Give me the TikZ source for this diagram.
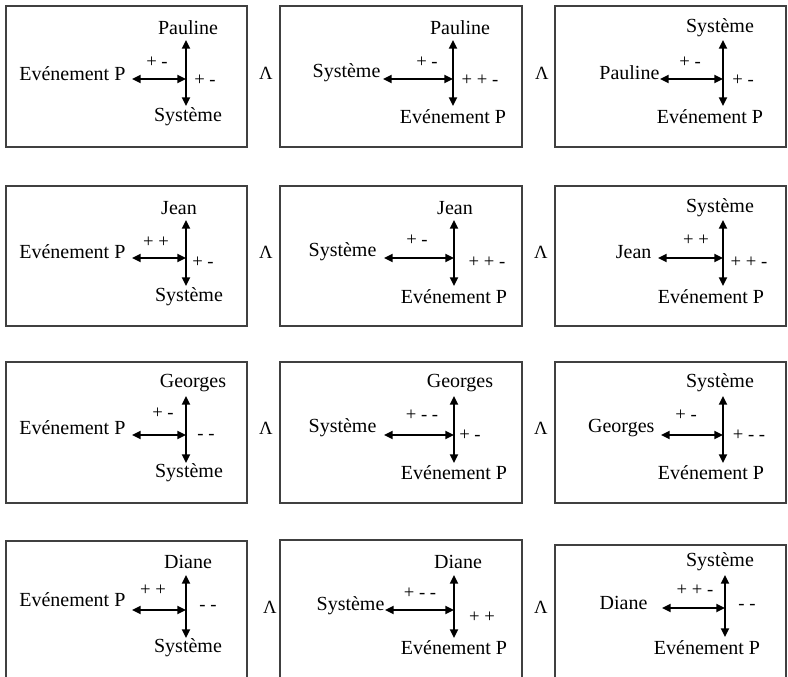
\documentclass[tikz,border=0pt]{standalone}
\usepackage{fontspec}
\setmainfont{Liberation Serif}
\usetikzlibrary{arrows.meta}

\tikzset{
  box/.style={draw=black!75, line width=1.1pt},
  arr/.style={line width=1.5pt, {Triangle[length=6.5pt,width=6pt]}-{Triangle[length=6.5pt,width=6pt]}},
  lbl/.style={font=\fontsize{15}{17}\selectfont, inner sep=1pt},
  sgn/.style={font=\fontsize{14}{16}\selectfont, inner sep=0pt},
  et/.style={font=\fontsize{14}{16}\selectfont, inner sep=0pt}
}

\begin{document}
\begin{tikzpicture}[x=0.75pt,y=-0.75pt]
\clip (0,0) rectangle (788,676);

% row 1 : Pauline
\begin{scope}[shift={(6,6)}]
  \draw[box] (0,0) rectangle (241,141);
  \coordinate (c11) at (180,73);
  \coordinate (u11) at (180,34);
  \coordinate (d11) at (180,100);
  \coordinate (w11) at (126,73);
  \node[lbl] (t11) at (182,22) {Pauline};
  \node[lbl,anchor=east] (l11) at (121,68) {Evénement P};
  \node[lbl] (b11) at (182,111) {Système};
  \draw[arr] (u11) -- (d11);
  \draw[arr] (w11) -- (c11);
  \node[sgn] (s11a) at (151,56) {+ -};
  \node[sgn] (s11b) at (199,74) {+ -};
\end{scope}
\node[et] (and11) at (266,73) {Λ};
\begin{scope}[shift={(280,6)}]
  \draw[box] (0,0) rectangle (242,141);
  \coordinate (c12) at (173,73);
  \coordinate (u12) at (173,34);
  \coordinate (d12) at (173,100);
  \coordinate (w12) at (103,73);
  \node[lbl] (t12) at (180,22) {Pauline};
  \node[lbl,anchor=east] (l12) at (102,67) {Système};
  \node[lbl] (b12) at (173,111) {Evénement P};
  \draw[arr] (u12) -- (d12);
  \draw[arr] (w12) -- (c12);
  \node[sgn] (s12a) at (147,56) {+ -};
  \node[sgn] (s12b) at (200,74) {+ + -};
\end{scope}
\node[et] (and12) at (542,73) {Λ};
\begin{scope}[shift={(555,6)}]
  \draw[box] (0,0) rectangle (231,141);
  \coordinate (c13) at (168,73);
  \coordinate (u13) at (168,34);
  \coordinate (d13) at (168,100);
  \coordinate (w13) at (105,73);
  \node[lbl] (t13) at (165,22) {Système};
  \node[lbl,anchor=east] (l13) at (106,67) {Pauline};
  \node[lbl] (b13) at (155,111) {Evénement P};
  \draw[arr] (u13) -- (d13);
  \draw[arr] (w13) -- (c13);
  \node[sgn] (s13a) at (135,56) {+ -};
  \node[sgn] (s13b) at (188,74) {+ -};
\end{scope}

% row 2 : Jean
\begin{scope}[shift={(6,186)}]
  \draw[box] (0,0) rectangle (241,140);
  \coordinate (c21) at (180,72);
  \coordinate (u21) at (180,34);
  \coordinate (d21) at (180,100);
  \coordinate (w21) at (126,72);
  \node[lbl] (t21) at (173,22) {Jean};
  \node[lbl,anchor=east] (l21) at (121,66) {Evénement P};
  \node[lbl] (b21) at (183,111) {Système};
  \draw[arr] (u21) -- (d21);
  \draw[arr] (w21) -- (c21);
  \node[sgn] (s21a) at (150,56) {+ +};
  \node[sgn] (s21b) at (197,76) {+ -};
\end{scope}
\node[et] (and21) at (266,252) {Λ};
\begin{scope}[shift={(280,186)}]
  \draw[box] (0,0) rectangle (242,140);
  \coordinate (c22) at (174,72);
  \coordinate (u22) at (174,34);
  \coordinate (d22) at (174,100);
  \coordinate (w22) at (104,72);
  \node[lbl] (t22) at (175,22) {Jean};
  \node[lbl,anchor=east] (l22) at (98,66) {Système};
  \node[lbl] (b22) at (174,111) {Evénement P};
  \draw[arr] (u22) -- (d22);
  \draw[arr] (w22) -- (c22);
  \node[sgn] (s22a) at (137,54) {+ -};
  \node[sgn] (s22b) at (207,76) {+ + -};
\end{scope}
\node[et] (and22) at (541,252) {Λ};
\begin{scope}[shift={(555,186)}]
  \draw[box] (0,0) rectangle (231,140);
  \coordinate (c23) at (168,72);
  \coordinate (u23) at (168,34);
  \coordinate (d23) at (168,100);
  \coordinate (w23) at (103,72);
  \node[lbl] (t23) at (165,22) {Système};
  \node[lbl,anchor=east] (l23) at (98,66) {Jean};
  \node[lbl] (b23) at (156,111) {Evénement P};
  \draw[arr] (u23) -- (d23);
  \draw[arr] (w23) -- (c23);
  \node[sgn] (s23a) at (141,54) {+ +};
  \node[sgn] (s23b) at (194,76) {+ + -};
\end{scope}

% row 3 : Georges
\begin{scope}[shift={(6,362)}]
  \draw[box] (0,0) rectangle (241,141);
  \coordinate (c31) at (180,73);
  \coordinate (u31) at (180,34);
  \coordinate (d31) at (180,101);
  \coordinate (w31) at (126,73);
  \node[lbl] (t31) at (187,21) {Georges};
  \node[lbl,anchor=east] (l31) at (121,66) {Evénement P};
  \node[lbl] (b31) at (183,111) {Système};
  \draw[arr] (u31) -- (d31);
  \draw[arr] (w31) -- (c31);
  \node[sgn] (s31a) at (157,51) {+ -};
  \node[sgn] (s31b) at (200,75) {- -};
\end{scope}
\node[et] (and31) at (266,428) {Λ};
\begin{scope}[shift={(280,362)}]
  \draw[box] (0,0) rectangle (242,141);
  \coordinate (c32) at (174,73);
  \coordinate (u32) at (174,34);
  \coordinate (d32) at (174,101);
  \coordinate (w32) at (104,73);
  \node[lbl] (t32) at (180,21) {Georges};
  \node[lbl,anchor=east] (l32) at (98,66) {Système};
  \node[lbl] (b32) at (174,111) {Evénement P};
  \draw[arr] (u32) -- (d32);
  \draw[arr] (w32) -- (c32);
  \node[sgn] (s32a) at (142,53) {+ - -};
  \node[sgn] (s32b) at (190,73) {+ -};
\end{scope}
\node[et] (and32) at (541,428) {Λ};
\begin{scope}[shift={(555,362)}]
  \draw[box] (0,0) rectangle (231,141);
  \coordinate (c33) at (168,73);
  \coordinate (u33) at (168,34);
  \coordinate (d33) at (168,101);
  \coordinate (w33) at (106,73);
  \node[lbl] (t33) at (165,21) {Système};
  \node[lbl,anchor=east] (l33) at (101,66) {Georges};
  \node[lbl] (b33) at (156,111) {Evénement P};
  \draw[arr] (u33) -- (d33);
  \draw[arr] (w33) -- (c33);
  \node[sgn] (s33a) at (131,53) {+ -};
  \node[sgn] (s33b) at (194,73) {+ - -};
\end{scope}

% row 4 : Diane
\begin{scope}[shift={(6,541)}]
  \draw[box] (0,0) rectangle (241,150);
  \coordinate (c41) at (180,69);
  \coordinate (u41) at (180,34);
  \coordinate (d41) at (180,97);
  \coordinate (w41) at (126,69);
  \node[lbl] (t41) at (182,21) {Diane};
  \node[lbl,anchor=east] (l41) at (121,59) {Evénement P};
  \node[lbl] (b41) at (182,107) {Système};
  \draw[arr] (u41) -- (d41);
  \draw[arr] (w41) -- (c41);
  \node[sgn] (s41a) at (147,49) {+ +};
  \node[sgn] (s41b) at (202,67) {- -};
\end{scope}
\node[et] (and41) at (270,607) {Λ};
\begin{scope}[shift={(280,541)}]
  \draw[box] (0,-1) rectangle (242,150);
  \coordinate (c42) at (174,69);
  \coordinate (u42) at (174,34);
  \coordinate (d42) at (174,97);
  \coordinate (w42) at (105,69);
  \node[lbl] (t42) at (178,21) {Diane};
  \node[lbl,anchor=east] (l42) at (106,65) {Système};
  \node[lbl] (b42) at (174,107) {Evénement P};
  \draw[arr] (u42) -- (d42);
  \draw[arr] (w42) -- (c42);
  \node[sgn] (s42a) at (140,52) {+ - -};
  \node[sgn] (s42b) at (202,76) {+ +};
\end{scope}
\node[et] (and42) at (541,607) {Λ};
\begin{scope}[shift={(555,541)}]
  \draw[box] (0,4) rectangle (231,150);
  \coordinate (c43) at (170,67);
  \coordinate (u43) at (170,34);
  \coordinate (d43) at (170,96);
  \coordinate (w43) at (107,67);
  \node[lbl] (t43) at (165,21) {Système};
  \node[lbl,anchor=east] (l43) at (94,62) {Diane};
  \node[lbl] (b43) at (152,107) {Evénement P};
  \draw[arr] (u43) -- (d43);
  \draw[arr] (w43) -- (c43);
  \node[sgn] (s43a) at (140,49) {+ + -};
  \node[sgn] (s43b) at (192,66) {- -};
\end{scope}

\end{tikzpicture}
\end{document}
